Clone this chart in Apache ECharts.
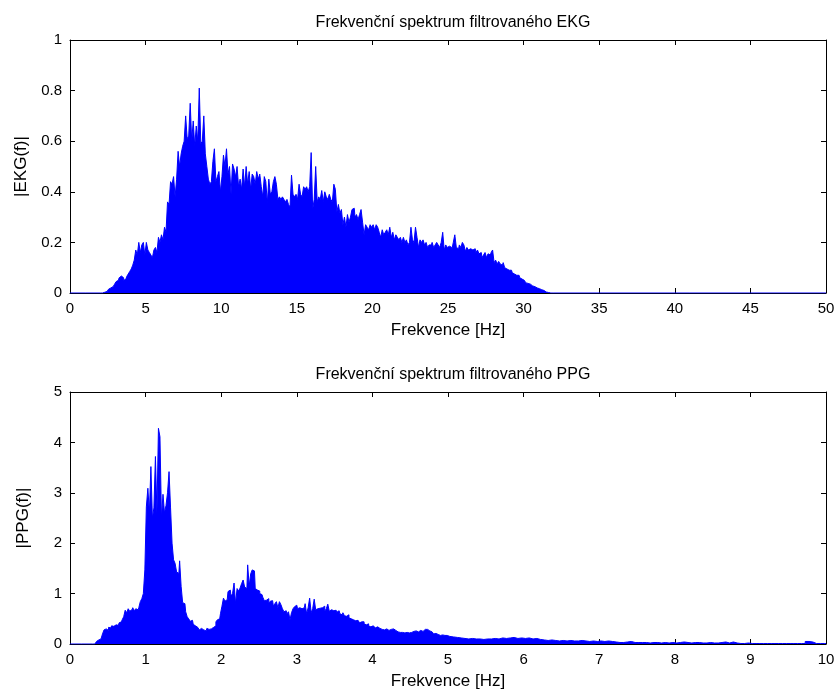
<!DOCTYPE html>
<html>
<head>
<meta charset="utf-8">
<script src="https://cdn.jsdelivr.net/npm/echarts@6/dist/echarts.min.js"></script>
<style>
  html, body { margin: 0; padding: 0; background: #fff; }
  #chart { width: 839px; height: 698px; }
</style>
</head>
<body>
<div id="chart"></div>
<script>
// Magnitude spectrum of the filtered ECG, sampled every 0.1 Hz starting at 2.0 Hz
const ekgStart = 2.0;
const ekgStep = 0.1;
const ekgAmp = [
  0, 0, 0, 0.003,
  0.006, 0.01, 0.015, 0.02, 0.025, 0.03, 0.035,
  0.045, 0.05, 0.06, 0.067, 0.06,
  0.05, 0.055, 0.065, 0.075, 0.085,
  0.095, 0.11, 0.13, 0.17, 0.15,
  0.2, 0.16, 0.19, 0.2, 0.15,
  0.2, 0.17, 0.16, 0.15, 0.14,
  0.17, 0.18, 0.16, 0.22, 0.2,
  0.23, 0.21, 0.26, 0.24, 0.36,
  0.35, 0.44, 0.43, 0.46, 0.38,
  0.45, 0.56, 0.5, 0.55, 0.58,
  0.6, 0.7, 0.61, 0.62, 0.75,
  0.6, 0.68, 0.58, 0.66, 0.6,
  0.81, 0.59, 0.6, 0.7, 0.55,
  0.5, 0.45, 0.43, 0.44, 0.52,
  0.57, 0.44, 0.46, 0.48, 0.40,
  0.46, 0.545, 0.5, 0.57, 0.47,
  0.5, 0.39, 0.51, 0.49, 0.46,
  0.5, 0.42, 0.45, 0.41, 0.49,
  0.42, 0.5, 0.43, 0.48, 0.41,
  0.47, 0.46, 0.43, 0.48, 0.45,
  0.47, 0.42, 0.38, 0.46, 0.44,
  0.355, 0.45, 0.39, 0.4, 0.44,
  0.46, 0.43, 0.37, 0.38, 0.37,
  0.38, 0.37, 0.36, 0.37, 0.35,
  0.34, 0.466, 0.39, 0.38, 0.39,
  0.37, 0.43, 0.39, 0.38, 0.42,
  0.41, 0.42, 0.4, 0.42, 0.555,
  0.33, 0.37, 0.5, 0.36, 0.38,
  0.37, 0.405, 0.36, 0.4, 0.38,
  0.37, 0.39, 0.37, 0.36, 0.43,
  0.41, 0.32, 0.35, 0.315, 0.33,
  0.27, 0.3, 0.26, 0.31, 0.28,
  0.3, 0.33, 0.335, 0.3, 0.31,
  0.29, 0.31, 0.33, 0.28, 0.23,
  0.27, 0.26, 0.25, 0.27, 0.26,
  0.27, 0.25, 0.27, 0.26, 0.24,
  0.22, 0.25, 0.23, 0.24, 0.25,
  0.23, 0.26, 0.22, 0.24, 0.21,
  0.23, 0.22, 0.21, 0.22, 0.2,
  0.22, 0.2, 0.21, 0.19, 0.2,
  0.26, 0.21, 0.2, 0.26, 0.22,
  0.18, 0.21, 0.2, 0.21, 0.19,
  0.2, 0.18, 0.19, 0.19, 0.2,
  0.18, 0.19, 0.2, 0.19, 0.18,
  0.2, 0.24, 0.17, 0.19, 0.18,
  0.185, 0.18, 0.17, 0.2, 0.23,
  0.18, 0.175, 0.19, 0.18, 0.2,
  0.19, 0.165, 0.18, 0.17, 0.175,
  0.17, 0.165, 0.175, 0.16, 0.17,
  0.155, 0.16, 0.14, 0.15, 0.16,
  0.14, 0.155, 0.15, 0.16, 0.17,
  0.12, 0.13, 0.115, 0.125, 0.115,
  0.11, 0.12, 0.1, 0.095, 0.09,
  0.085, 0.09, 0.08, 0.075, 0.07,
  0.065, 0.07, 0.06, 0.055, 0.05,
  0.045, 0.04, 0.038, 0.035, 0.03,
  0.028, 0.025, 0.022, 0.02, 0.017,
  0.015, 0.013, 0.01, 0.007, 0.004,
  0.002, 0, 0, 0, 0
];

// Magnitude spectrum of the filtered PPG: fine part every 0.02 Hz from 0.30 Hz,
// tail every 0.05 Hz from 5.05 Hz
const ppgStart = 0.30;
const ppgStep = 0.02;
const ppgAmp = [
  0, 0, 0.02, 0.05, 0.08, 0.1, 0.12, 0.2, 0.28, 0.3,
  0.27, 0.33, 0.32, 0.36, 0.35, 0.38, 0.4, 0.37, 0.42, 0.44,
  0.48, 0.54, 0.67, 0.62, 0.7, 0.65, 0.68, 0.72, 0.66, 0.7,
  0.68, 0.72, 0.84, 0.9, 1.0,
  1.47, 2.72, 3.09, 2.6, 3.52, 2.5, 2.7, 3.72, 2.6, 4.28,
  4.11, 2.5, 2.97, 2.6, 2.75, 3.0, 3.42, 2.7, 2.0, 1.67,
  1.6, 1.43, 1.4, 1.65, 1.14, 0.82, 0.8, 0.64, 0.54, 0.5,
  0.45, 0.47, 0.39, 0.36, 0.33, 0.3, 0.28, 0.31, 0.28, 0.3,
  0.26, 0.31, 0.29, 0.3, 0.28, 0.33, 0.36, 0.44, 0.48, 0.5,
  0.6, 0.75, 0.91, 0.85, 0.88, 1.04, 1.07, 0.95, 1.0, 1.21,
  0.8, 1.1, 1.05, 1.11, 1.2, 1.27, 1.13, 1.1, 1.57, 1.15,
  1.39, 1.47, 1.45, 1.1, 1.07, 1.05, 1.0, 0.98, 0.93, 0.86,
  0.87, 0.9, 0.81, 0.85, 0.86, 0.75, 0.8, 0.84, 0.72, 0.84,
  0.78, 0.7, 0.64, 0.66, 0.6, 0.64, 0.48, 0.62, 0.7, 0.74,
  0.77, 0.7, 0.72, 0.7, 0.68, 0.72, 0.8, 0.6, 0.72, 0.91,
  0.62, 0.7, 0.89, 0.68, 0.7, 0.71, 0.7, 0.72, 0.75, 0.65,
  0.7, 0.79, 0.65, 0.68, 0.66, 0.64, 0.67, 0.63, 0.66, 0.6,
  0.58, 0.62, 0.56, 0.55, 0.58, 0.52, 0.5, 0.48, 0.5, 0.46,
  0.47, 0.45, 0.42, 0.44, 0.44, 0.4, 0.38, 0.4, 0.36, 0.34,
  0.36, 0.33, 0.32, 0.34, 0.31, 0.31, 0.29, 0.3, 0.28, 0.3,
  0.29, 0.27, 0.29, 0.28, 0.3, 0.27, 0.29, 0.24, 0.23, 0.25,
  0.23, 0.22, 0.24, 0.23, 0.22, 0.24, 0.23, 0.25, 0.24, 0.26,
  0.24, 0.25, 0.27, 0.25, 0.28, 0.29, 0.29, 0.27, 0.26, 0.24,
  0.22, 0.2, 0.21, 0.19, 0.18, 0.17, 0.18, 0.16, 0.17, 0.17,
  0.15
];
const ppgTailStart = 5.05;
const ppgTailStep = 0.05;
const ppgTailAmp = [
  0.14, 0.13, 0.12, 0.11, 0.10, 0.11, 0.10, 0.1, 0.09, 0.1,
  0.1, 0.11, 0.1, 0.12, 0.11, 0.12, 0.13, 0.11, 0.12, 0.11,
  0.12, 0.1, 0.11, 0.09, 0.08, 0.07, 0.08, 0.07, 0.06, 0.07,
  0.06, 0.07, 0.06, 0.06, 0.07, 0.06, 0.05, 0.06, 0.05, 0.06,
  0.05, 0.06, 0.05, 0.04, 0.03, 0.03, 0.04, 0.05, 0.03, 0.03,
  0.03, 0.03, 0.02, 0.03, 0.03, 0.02, 0.03, 0.02, 0.03, 0.02,
  0.03, 0.04, 0.03, 0.02, 0.03, 0.03, 0.02, 0.02, 0.03, 0.02,
  0.02, 0.03, 0.04, 0.02, 0.04, 0.02, 0.01, 0.01, 0.02, 0.01,
  0.01, 0.01, 0.01, 0.01, 0.01, 0.01, 0.01, 0.01, 0.01, 0.01,
  0.01, 0.01, 0.01, 0.01, 0.05, 0.04, 0.01, 0.01, 0.01, 0.01
];

const ekgRange = [0, 50];
const ppgRange = [0, 10];

const titles = ['Frekvenční spektrum filtrovaného EKG', 'Frekvenční spektrum filtrovaného PPG'];
const xName = 'Frekvence [Hz]';
const yNames = ['|EKG(f)|', '|PPG(f)|'];

function toPoints(start, step, values) {
  return values.map((v, i) => [+(start + i * step).toFixed(4), v]);
}

const ekgData = [[ekgRange[0], 0]].concat(toPoints(ekgStart, ekgStep, ekgAmp), [[ekgRange[1], 0]]);
const ppgData = [[ppgRange[0], 0]].concat(
  toPoints(ppgStart, ppgStep, ppgAmp),
  toPoints(ppgTailStart, ppgTailStep, ppgTailAmp),
  [[ppgRange[1], 0]]
);

const FONT = 'Liberation Sans, Arial, sans-serif';
const INK = '#000';
const BLUE = '#0000ff';

function xAxes(gridIndex, range, interval) {
  const common = {
    type: 'value', gridIndex, min: range[0], max: range[1], interval,
    axisLine: { show: true, onZero: false, lineStyle: { color: INK, width: 1 } },
    axisTick: { show: true, inside: true, length: 5, lineStyle: { color: INK } },
    splitLine: { show: false }
  };
  return [
    Object.assign({}, common, {
      position: 'bottom',
      name: xName, nameLocation: 'middle', nameGap: 29,
      nameTextStyle: { color: INK, fontFamily: FONT, fontSize: 17 },
      axisLabel: { color: INK, fontFamily: FONT, fontSize: 15, margin: 8 }
    }),
    Object.assign({}, common, { position: 'top', axisLabel: { show: false } })
  ];
}

function yAxes(gridIndex, max, interval, name) {
  const common = {
    type: 'value', gridIndex, min: 0, max, interval,
    axisLine: { show: true, onZero: false, lineStyle: { color: INK, width: 1 } },
    axisTick: { show: true, inside: true, length: 5, lineStyle: { color: INK } },
    splitLine: { show: false }
  };
  return [
    Object.assign({}, common, {
      position: 'left',
      name, nameLocation: 'middle', nameGap: 38, nameRotate: 90,
      nameTextStyle: { color: INK, fontFamily: FONT, fontSize: 17 },
      axisLabel: { color: INK, fontFamily: FONT, fontSize: 15, margin: 8 }
    }),
    Object.assign({}, common, { position: 'right', axisLabel: { show: false } })
  ];
}

function spectrum(data, xi, yi) {
  return {
    type: 'line', data, xAxisIndex: xi, yAxisIndex: yi,
    step: 'middle',
    showSymbol: false, symbol: 'none', animation: false,
    lineStyle: { color: BLUE, width: 1 },
    areaStyle: { color: BLUE, opacity: 1 }
  };
}

const chart = echarts.init(document.getElementById('chart'), null, { renderer: 'canvas' });
chart.setOption({
  backgroundColor: '#fff',
  animation: false,
  title: [
    { text: titles[0], left: 448, top: 10, textAlign: 'center',
      textStyle: { color: INK, fontFamily: FONT, fontSize: 16, fontWeight: 'normal' } },
    { text: titles[1], left: 448, top: 362, textAlign: 'center',
      textStyle: { color: INK, fontFamily: FONT, fontSize: 16, fontWeight: 'normal' } }
  ],
  grid: [
    { left: 70, top: 40, width: 756, height: 253 },
    { left: 70, top: 392, width: 756, height: 252 }
  ],
  xAxis: xAxes(0, ekgRange, 5).concat(xAxes(1, ppgRange, 1)),
  yAxis: yAxes(0, 1, 0.2, yNames[0]).concat(yAxes(1, 5, 1, yNames[1])),
  series: [
    spectrum(ekgData, 0, 0),
    spectrum(ppgData, 2, 2)
  ]
});
</script>
</body>
</html>
